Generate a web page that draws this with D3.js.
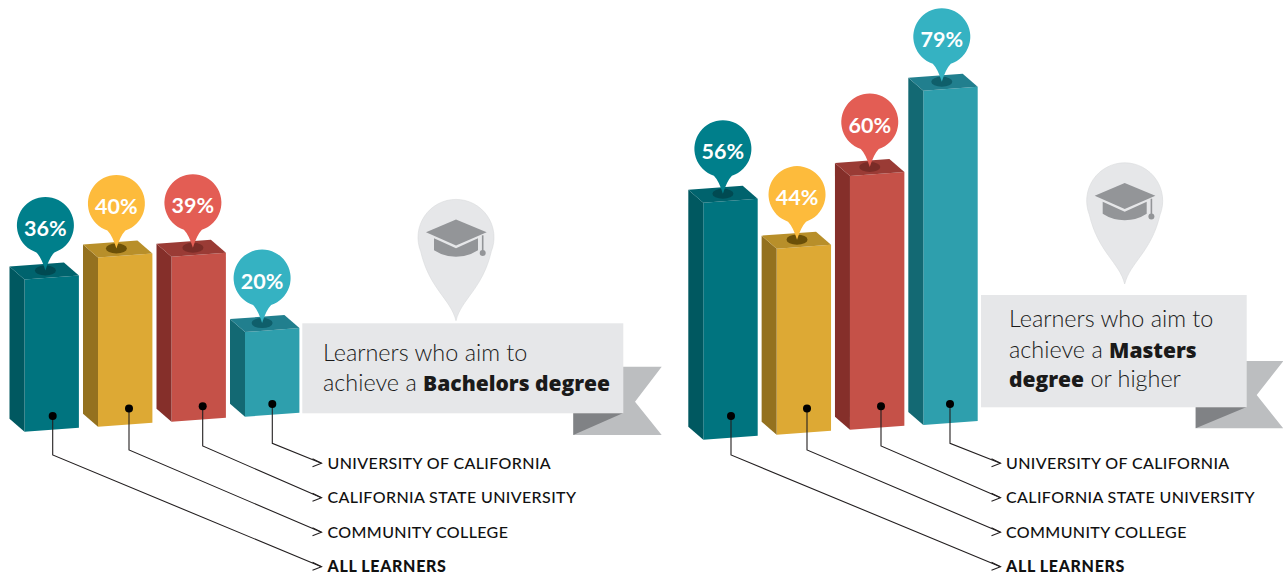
<!DOCTYPE html>
<html><head><meta charset="utf-8">
<script src="https://cdn.jsdelivr.net/npm/d3@7"></script>
<style>html,body{margin:0;padding:0;background:#fff}svg{display:block}text{font-family:Lato,sans-serif}</style>
</head><body><div id="chart"></div>
<script>
const categories = ["All Learners","Community College","California State University","University of California"];
const labels = ["ALL LEARNERS","COMMUNITY COLLEGE","CALIFORNIA STATE UNIVERSITY","UNIVERSITY OF CALIFORNIA"];
const bachelors = [36,40,39,20];
const masters = [56,44,60,79];

const frontColors = ["#00747f","#dda934","#c55148","#2e9fad"];
const sideColors  = ["#005860","#94711f","#852f2a","#136973"];
const topColors   = ["#00636d","#b88f2a","#9a3b35","#217f8e"];
const holeColors  = ["#004a52","#6b5008","#7a2c27","#0f5f6b"];
const pinColors   = ["#007f8b","#fdbb3c","#e35d54","#35b2c2"];

const W=1283,H=573;
const svg=d3.select("#chart").append("svg").attr("width",W).attr("height",H).attr("viewBox",[0,0,W,H]);
const heightScale=d3.scaleLinear().domain([0,100]).range([0,423]);
const labelY=d3.scalePoint().domain(categories).range([566.7,463.3]);

const panels=[
 {values:bachelors,x0:24.5,x1:245,b0:431.7,b1:416.7,nudge:[1.3,-1.2,1.8,-2.5],
  dotX:[52.7,129,202.7,272.3],tipX:321.5,labelX:327.5,
  rect:[302.3,323.3,321,90],textX:323,
  ribbon:[[623,366.7],[661.7,366.7],[635,401.7],[661.7,435],[573.3,435],[573.3,413]],
  fold:[[573.3,413],[623.3,413],[573.3,435]],
  gpin:[456,237.3,320.7],
  lines:[[["Learners who aim to",0]],[["achieve a ",0],["Bachelors degree",1]]],lineY:[360.7,391]},
 {values:masters,x0:703.3,x1:923.3,b0:439.7,b1:424.9,nudge:[0,0.8,0.2,-1.1],
  dotX:[731,807,881,950],tipX:1000.5,labelX:1006,
  rect:[981,295,265.7,112.3],textX:1009,
  ribbon:[[1246,361],[1283.3,361],[1256.7,395],[1283.3,428.3],[1195.7,428.3],[1195.7,407]],
  fold:[[1195.7,407],[1246.7,407],[1195.7,428.3]],
  gpin:[1124.7,200.7,284],
  lines:[[["Learners who aim to",0]],[["achieve a ",0],["Masters",1]],[["degree",1],[" or higher",0]]],lineY:[326.7,357.7,387.3]}
];
const dotYs=[416,408.6,406.2,404], elbowYs=[455,450,446,443.3];

const fw=54.4, sd=15, rise=4, back=13;
function poly(g,pts,fill){g.append("path").attr("d",d3.line()(pts)+"Z").attr("fill",fill);}

function pinPath(r,tail){
  const hw=9;
  return `M${-hw},${25} A${r},${r} 0 1 1 ${hw},${25} Q${hw*0.45},${30} 0,${tail} Q${-hw*0.45},${30} ${-hw},${25}Z`;
}

panels.forEach(p=>{
 const xs=d3.scalePoint().domain(categories).range([p.x0,p.x1]);
 const base=d3.scalePoint().domain(categories).range([p.b0,p.b1]);
 const g=svg.append("g");

 const b=g.append("g");
 poly(b,p.ribbon,"#bcbec0");
 poly(b,p.fold,"#808285");
 b.append("rect").attr("x",p.rect[0]).attr("y",p.rect[1]).attr("width",p.rect[2]).attr("height",p.rect[3]).attr("fill","#e6e7e9");
 p.lines.forEach((ln,i)=>{
   const t=b.append("text").attr("x",p.textX).attr("y",p.lineY[i]).attr("fill","#1a1a1a");
   ln.forEach(s=>t.append("tspan").text(s[0]).style("white-space","pre")
      .attr("font-family",s[1]?"'Open Sans'":"Lato").attr("font-size",s[1]?21:23.4).attr("font-weight",s[1]?800:300));
 });

 const [gx,gy,gt]=p.gpin, R=38, h=gt-gy;
 const gp=g.append("g").attr("transform",`translate(${gx},${gy})`);
 gp.append("path").attr("d",`M${-R*0.93},${R*0.37} A${R},${R} 0 1 1 ${R*0.93},${R*0.37} C${R*0.7},${h*0.62} ${R*0.14},${h*0.74} 0,${h} C${-R*0.14},${h*0.74} ${-R*0.7},${h*0.62} ${-R*0.93},${R*0.37}Z`)
   .attr("fill","#e6e7e9").attr("stroke","#d9dadb").attr("stroke-width",.6);
 gp.append("path").attr("d","M-30,-5 L0,-17.7 L30.7,-5 L0,8.3Z").attr("fill","#939598");
 gp.append("path").attr("d","M-22,1 L0,11 L22,1 L22,13 Q12,19.5 0,19.5 Q-12,19.5 -22,13Z").attr("fill","#939598");
 gp.append("path").attr("d","M26.7,-2 V15").attr("stroke","#939598").attr("stroke-width",1.6);
 gp.append("circle").attr("cx",26.7).attr("cy",15.7).attr("r",3).attr("fill","#939598");

 categories.forEach((c,i)=>{
  const v=p.values[i], x=xs(c), yb=base(c), bh=heightScale(v), yt=yb-bh;
  const bar=g.append("g");
  poly(bar,[[x,yt],[x+fw,yt-rise],[x+fw,yb-rise],[x,yb]],frontColors[i]);
  poly(bar,[[x,yt],[x-sd,yt-back],[x-sd,yb-back],[x,yb]],sideColors[i]);
  poly(bar,[[x,yt],[x-sd,yt-back],[x-sd+fw,yt-back-rise],[x+fw,yt-rise]],topColors[i]);
  const px=x+19.6+p.nudge[i], hy=yt-9;
  bar.append("ellipse").attr("cx",px).attr("cy",hy).attr("rx",10.5).attr("ry",5).attr("fill",holeColors[i]);
  const pin=bar.append("g").attr("transform",`translate(${px},${hy-43})`);
  pin.append("path").attr("d",pinPath(28.5,43)).attr("fill",pinColors[i]);
  pin.append("text").attr("text-anchor","middle").attr("dy","0.4em").attr("font-size",21.5).attr("font-weight",700).attr("fill","#fff").text(v+"%");
 });

 categories.forEach((c,i)=>{
  const dx=p.dotX[i], dy=dotYs[i], ey=elbowYs[i], ty=labelY(c), tx=p.tipX;
  const l=g.append("g");
  l.append("path").attr("d",d3.line()([[dx,dy],[dx,ey],[tx,ty]])).attr("fill","none").attr("stroke","#231f20").attr("stroke-width",1.1);
  l.append("path").attr("d",d3.line()([[tx-9,ty-4.5],[tx,ty],[tx-9,ty+3.5]])).attr("fill","none").attr("stroke","#231f20").attr("stroke-width",1.1);
  l.append("circle").attr("cx",dx).attr("cy",dy).attr("r",4).attr("fill","#000");
  l.append("text").attr("x",p.labelX).attr("y",ty+5.4).attr("font-size",16).attr("font-weight",i===0?900:500).attr("fill","#111").attr("letter-spacing",i===0?".65":".38").text(labels[i]);
 });
});
</script></body></html>
